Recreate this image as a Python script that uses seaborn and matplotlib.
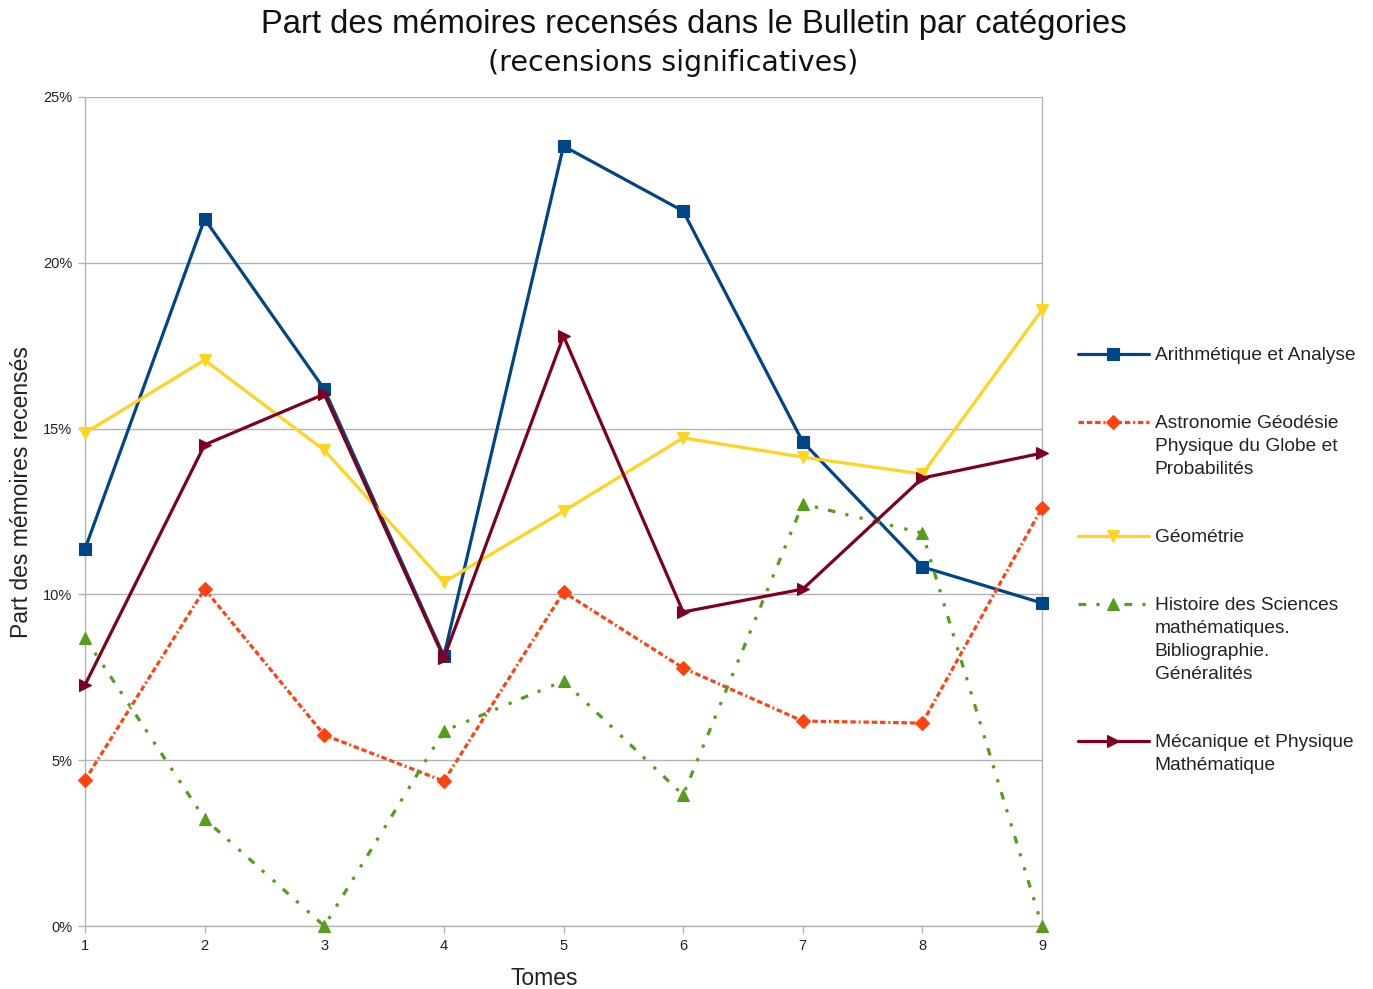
import matplotlib
matplotlib.use("Agg")
import matplotlib.pyplot as plt
import seaborn as sns
from matplotlib.ticker import PercentFormatter, MultipleLocator

# Share of reviewed memoirs per category, by volume (percent)
tomes = [1, 2, 3, 4, 5, 6, 7, 8, 9]
arithmetique = [11.37, 21.32, 16.19, 8.14, 23.52, 21.56, 14.60, 10.83, 9.74]
astronomie = [4.40, 10.16, 5.76, 4.37, 10.07, 7.78, 6.18, 6.12, 12.61]
geometrie = [14.87, 17.07, 14.35, 10.37, 12.51, 14.72, 14.14, 13.63, 18.58]
histoire = [8.69, 3.23, 0.0, 5.88, 7.39, 3.95, 12.73, 11.85, 0.0]
mecanique = [7.27, 14.51, 16.04, 8.08, 17.79, 9.47, 10.16, 13.51, 14.26]

categories = [
    "Arithmétique et Analyse",
    "Astronomie Géodésie\nPhysique du Globe et\nProbabilités",
    "Géométrie",
    "Histoire des Sciences\nmathématiques.\nBibliographie.\nGénéralités",
    "Mécanique et Physique\nMathématique",
]
series = [arithmetique, astronomie, geometrie, histoire, mecanique]

colors = ["#004586", "#ff420e", "#ffd320", "#579d1c", "#7e0021"]
markers = ["s", "D", "v", "^", ">"]
msizes = [8.5, 7, 9, 9, 9]
styles = [
    "-",
    (0, (1.7, 0.9, 1.7, 0.9, 1.7, 0.9, 0.6, 0.9)),
    "-",
    (0, (2.4, 3.2, 1.0, 3.6, 1.0, 3.2)),
    "-",
]

sns.set_theme(style="white")
plt.rcParams["font.family"] = ["Liberation Sans", "DejaVu Sans"]

fig = plt.figure(figsize=(13.73, 9.89), dpi=100)
ax = fig.add_axes([85 / 1373, 63 / 989, 957 / 1373, 829 / 989])

for cat, vals, col, mk, ms, ls in zip(categories, series, colors, markers, msizes, styles):
    sns.lineplot(
        x=tomes, y=vals, ax=ax, color=col, marker=mk, markersize=ms,
        markeredgecolor=col, markeredgewidth=0.8, linewidth=2.3,
        linestyle=ls, label=cat, clip_on=False, zorder=3,
    )

if ax.get_legend() is not None:
    ax.get_legend().remove()

ax.set_xlim(1, 9)
ax.set_ylim(0, 25)
ax.xaxis.set_major_locator(MultipleLocator(1))
ax.yaxis.set_major_locator(MultipleLocator(5))
ax.yaxis.set_major_formatter(PercentFormatter(decimals=0))

ax.grid(axis="y", color="#b3b3b3", linewidth=1)
ax.grid(axis="x", visible=False)
for side in ["left", "right", "bottom"]:
    ax.spines[side].set_visible(True)
    ax.spines[side].set_color("#b3b3b3")
    ax.spines[side].set_linewidth(1)
ax.spines["top"].set_visible(False)

ax.tick_params(axis="both", which="major", length=5, width=1, color="#b3b3b3",
               labelsize=10.5, labelcolor="#222222", pad=4,
               bottom=True, left=True)

ax.set_xlabel("Tomes", fontsize=16.5, labelpad=10.5, color="#222222", x=0.48)
ax.set_ylabel("Part des mémoires recensés", fontsize=16.5, labelpad=7.5,
              color="#222222", y=0.5235)

fig.text(694 / 1373, 1 - 25 / 989, "Part des mémoires recensés dans le Bulletin par catégories",
         ha="center", va="center", fontsize=23.6, color="#111111")
fig.text(673 / 1373, 1 - 63 / 989, "(recensions significatives)",
         ha="center", va="center", fontsize=20.5, color="#111111",
         family=["DejaVu Sans"])

handles, labels = ax.get_legend_handles_labels()
leg = fig.legend(
    handles, labels, loc="upper left",
    bbox_to_anchor=(1078 / 1373, 1 - 347 / 989),
    frameon=False, fontsize=13.8, handlelength=3.7, handletextpad=0.3,
    labelspacing=2.67, borderpad=0, borderaxespad=0, numpoints=1,
)
# align each handle with the first line of its label
for col_box in leg._legend_handle_box.get_children():
    for row in col_box.get_children():
        row.align = "top"
for txt in leg.get_texts():
    txt.set_color("#222222")
    txt.set_linespacing(1.45)

fig.savefig("out.png", dpi=100)
